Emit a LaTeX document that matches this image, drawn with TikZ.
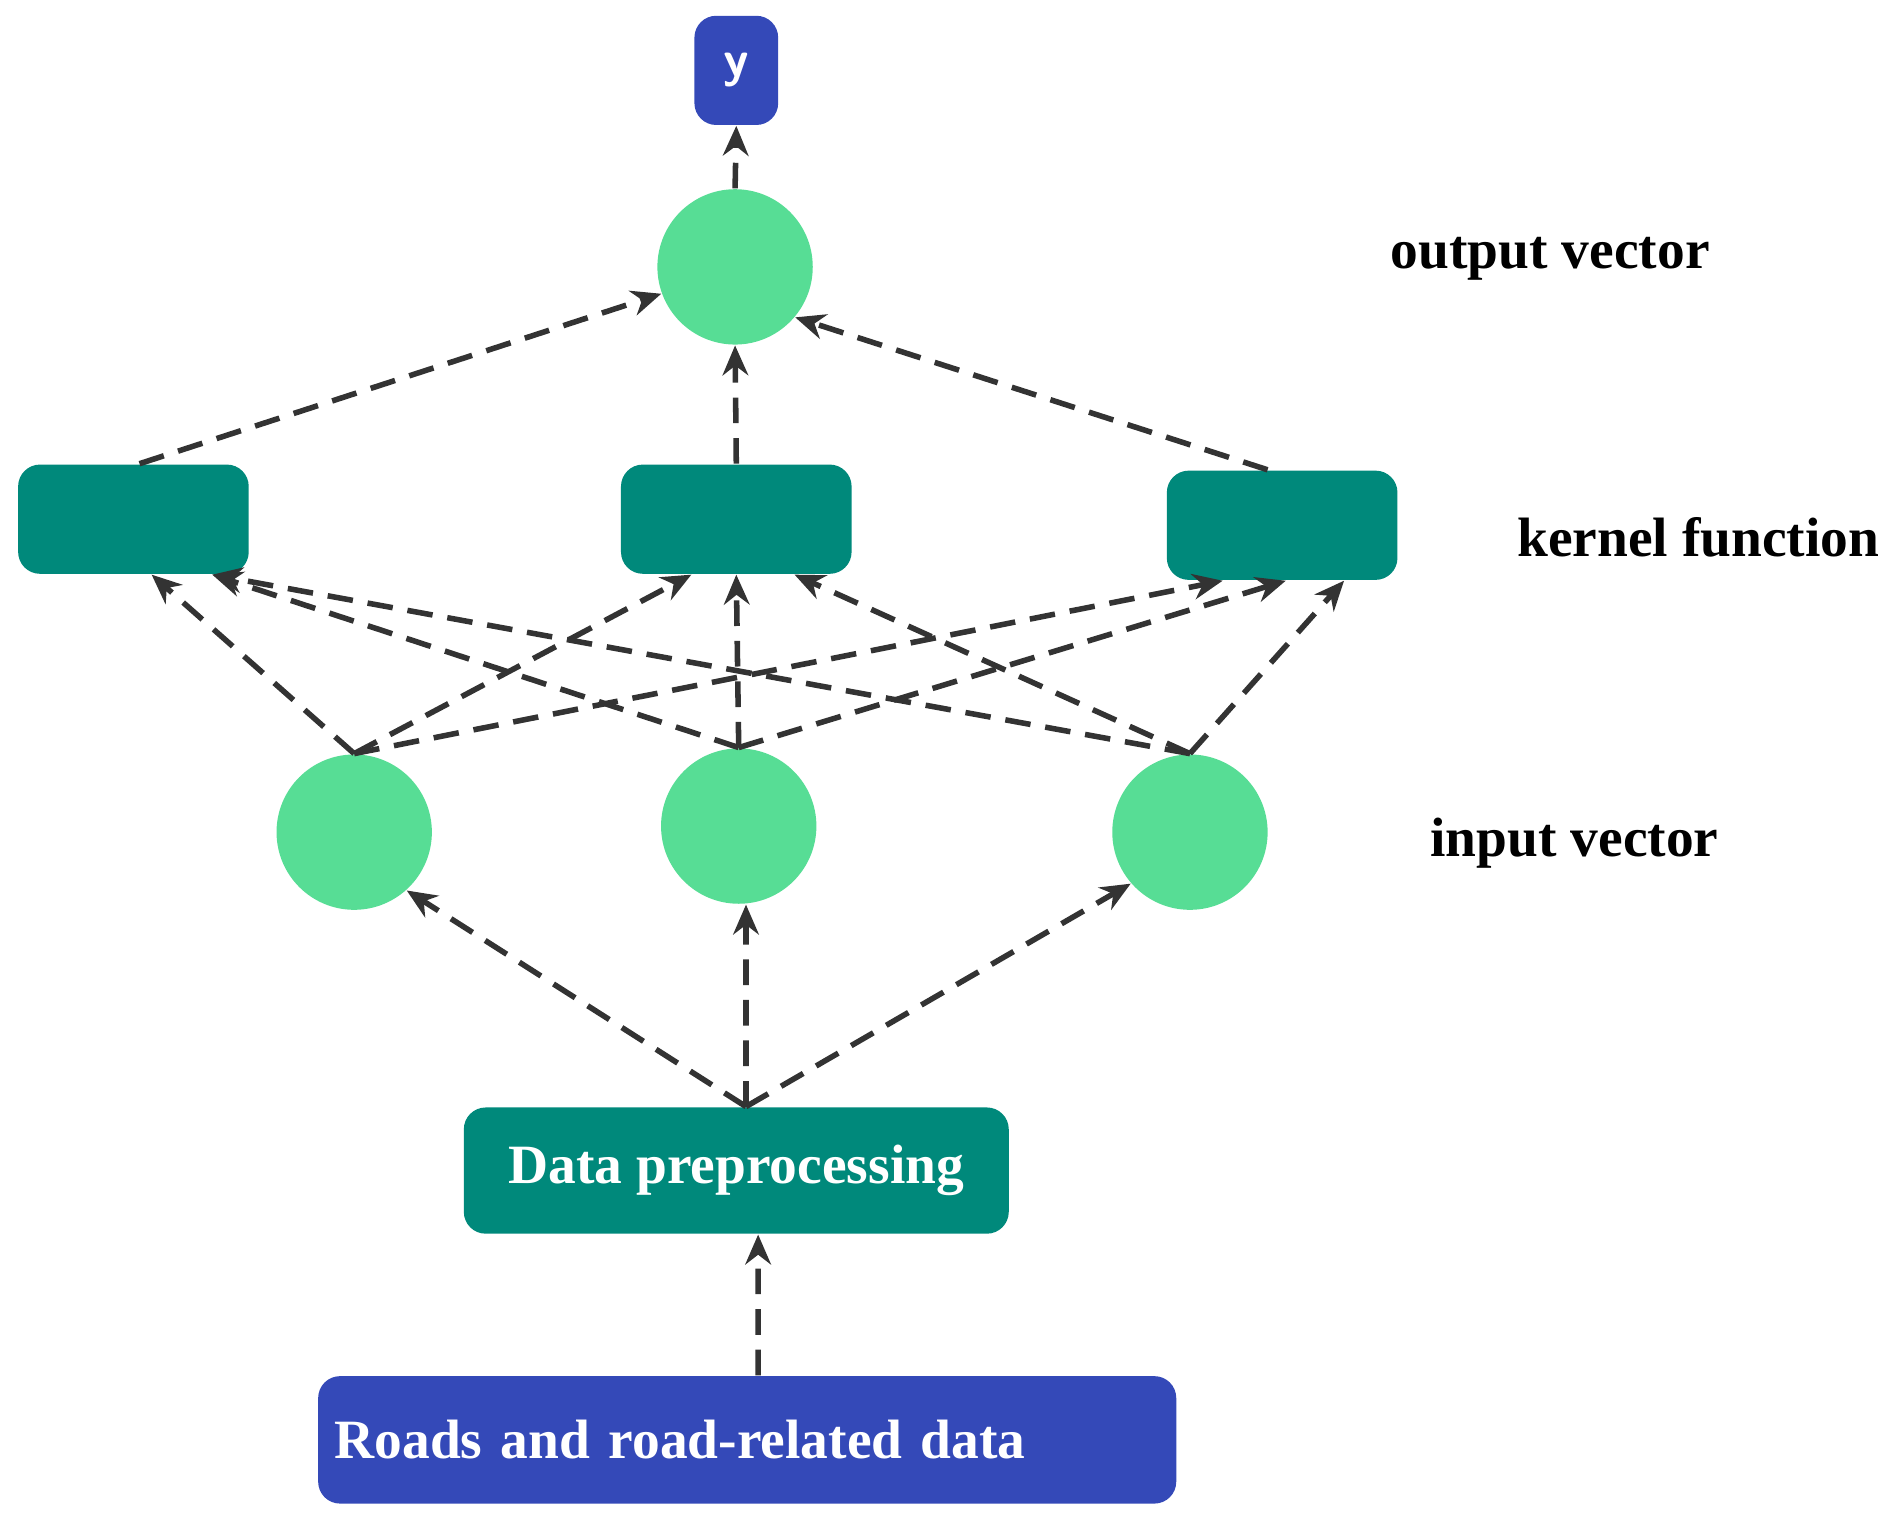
\documentclass[tikz,border=0pt]{standalone}
\usepackage{fontspec}
\setmainfont{Liberation Serif}
\usetikzlibrary{arrows.meta}
\definecolor{tealbox}{RGB}{0,137,123}
\definecolor{bluebox}{RGB}{52,73,184}
\definecolor{greenc}{RGB}{87,221,149}
\definecolor{arr}{RGB}{51,51,51}
\begin{document}
\begin{tikzpicture}[x=0.01cm,y=-0.01cm,
  kbox/.style={fill=tealbox,draw=none,rounded corners=0.18cm,minimum width=1.9cm,minimum height=0.9cm},
  bbox/.style={fill=bluebox,draw=none,rounded corners=0.18cm},
  circ/.style={circle,fill=greenc,draw=none,minimum size=1.28cm,inner sep=0},
  lab/.style={font=\fontsize{13}{15}\selectfont\bfseries},
  wt/.style={text=white,font=\fontsize{13}{15}\selectfont\bfseries},
  ar/.style={draw=arr,line width=1.3pt,dash pattern=on 6pt off 3.5pt,-{Stealth[length=7pt,width=6pt]}}]
\useasboundingbox (0,0) rectangle (1568,1256);
\node[bbox,minimum width=0.69cm,minimum height=0.9cm,text=white,font=\sffamily\bfseries\large] (y) at (607,58) {y};
\node[circ] (o) at (606,220) {};
\node[kbox] (k1) at (110,428) {};
\node[kbox] (k2) at (607,428) {};
\node[kbox] (k3) at (1057,433) {};
\node[circ] (i1) at (292,686) {};
\node[circ] (i2) at (609,681) {};
\node[circ] (i3) at (981,686) {};
\node[kbox,minimum width=4.49cm,minimum height=1.04cm,wt] (dp) at (607,965) {Data preprocessing};
\node[bbox,minimum width=7.07cm,minimum height=1.05cm,wt,text width=6.8cm,align=left,inner xsep=0.12cm] (rd) at (616,1187) {Roads and road-related data};
\node[lab] (lo) at (1278,213) {output vector};
\node[lab] (lk) at (1400,443) {kernel function};
\node[lab] (li) at (1298,695) {input vector};
% connectors
\draw[ar] (o.north) -- (y.south);
\draw[ar] ([xshift=0.05cm]k1.north) -- (o.200);
\draw[ar] (k2.north) -- (o.south);
\draw[ar] ([xshift=-0.12cm]k3.north) -- (o.-40);
\draw[ar] (i1.north) -- ([xshift=0.15cm]k1.south);
\draw[ar] (i1.north) -- ([xshift=-0.37cm]k2.south);
\draw[ar] (i1.north) -- ([xshift=-0.49cm]k3.south);
\draw[ar] (i2.north) -- ([xshift=0.65cm]k1.south);
\draw[ar] (i2.north) -- (k2.south);
\draw[ar] (i2.north) -- ([xshift=0.03cm]k3.south);
\draw[ar] (i3.north) -- ([xshift=0.65cm]k1.south);
\draw[ar] (i3.north) -- ([xshift=0.48cm]k2.south);
\draw[ar] (i3.north) -- ([xshift=0.51cm]k3.south);
\draw[ar] ([xshift=0.08cm]dp.north) -- (i1.-48);
\draw[ar] ([xshift=0.08cm]dp.north) -- ([xshift=0.06cm]i2.south);
\draw[ar] ([xshift=0.08cm]dp.north) -- (i3.221);
\draw[ar] ([xshift=0.09cm]rd.north) -- ([xshift=0.18cm]dp.south);
\end{tikzpicture}
\end{document}
